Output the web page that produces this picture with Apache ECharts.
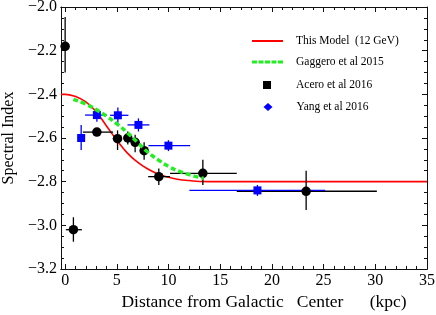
<!DOCTYPE html>
<html><head><meta charset="utf-8">
<script src="https://cdn.jsdelivr.net/npm/echarts@6/dist/echarts.min.js"></script>
<style>html,body{margin:0;padding:0;background:#fff}#c{width:436px;height:315px}</style>
</head><body><div id="c"></div>
<script>
// Model curve (This Model, 12 GeV): [distance, index]
const modelCurve = [[-0.4,-2.40],[0,-2.40],[1,-2.41],[2,-2.435],[3,-2.48],[4,-2.545],[5,-2.61],[6,-2.668],[7,-2.71],[8,-2.742],[9,-2.765],[10,-2.78],[11,-2.79],[12,-2.795],[13,-2.799],[15,-2.80],[20,-2.80],[35,-2.80]];
// Gaggero et al 2015
const gaggeroCurve = [[0.8,-2.423],[2,-2.445],[3,-2.47],[4,-2.50],[5,-2.535],[6,-2.575],[7,-2.62],[8,-2.665],[9,-2.70],[10,-2.73],[11,-2.752],[12,-2.768],[13.4,-2.785]];
// Acero et al 2016: [x, y, xLow, xHigh, yLow, yHigh]
const aceroPoints = [
  [0.0,-2.18,0.0,0.0,-2.30,-2.046],
  [0.8,-3.02,0.07,1.62,-3.075,-2.963],
  [3.07,-2.573,1.71,4.64,-2.59,-2.555],
  [5.07,-2.603,4.6,5.5,-2.655,-2.565],
  [6.06,-2.60,5.7,6.45,-2.63,-2.57],
  [6.77,-2.62,6.4,7.2,-2.665,-2.585],
  [7.64,-2.658,7.25,8.1,-2.70,-2.62],
  [9.06,-2.777,8.03,10.15,-2.815,-2.74],
  [13.32,-2.762,10.15,16.6,-2.815,-2.70],
  [23.31,-2.844,16.6,30.15,-2.93,-2.75]
];
// Yang et al 2016
const yangPoints = [
  [1.55,-2.60,1.2,1.9,-2.655,-2.54],
  [3.07,-2.495,1.93,4.03,-2.525,-2.478],
  [5.10,-2.496,4.35,6.12,-2.53,-2.46],
  [7.09,-2.54,6.03,8.15,-2.57,-2.51],
  [9.99,-2.635,8.06,12.09,-2.66,-2.61],
  [18.6,-2.84,12.02,25.15,-2.865,-2.815]
];
const xMajorTicks = [0,5,10,15,20,25,30,35];
const xMinorTicks = [0,1,2,3,4,5,6,7,8,9,10,11,12,13,14,15,16,17,18,19,20,21,22,23,24,25,26,27,28,29,30,31,32,33,34,35];
const xRange = {min:-0.4, max:35};
const yTicks = {min:-3.2, max:-2.0, interval:0.2};
const legendNames = ['This Model  (12 GeV)','Gaggero et al 2015','Acero et al 2016','Yang et al 2016'];
const xTitle = 'Distance from Galactic   Center      (kpc)';
const yTitle = 'Spectral Index';

const FONT = 'Liberation Serif';
const frame = '#111';
function errRender(color){
  return function(params, api){
    const x = api.value(0), y = api.value(1);
    const a = api.coord([api.value(2), y]), b = api.coord([api.value(3), y]);
    const c = api.coord([x, api.value(4)]), d = api.coord([x, api.value(5)]);
    const st = {stroke: color, lineWidth: 1.3};
    return {type:'group', children:[
      {type:'line', shape:{x1:a[0],y1:a[1],x2:b[0],y2:b[1]}, style:st},
      {type:'line', shape:{x1:c[0],y1:c[1],x2:d[0],y2:d[1]}, style:st}
    ]};
  };
}
function xAx(pos, lbl, ticks, len){
  return {type:'value', position:pos, min:xRange.min, max:xRange.max,
    axisLine:{show:true, onZero:false, lineStyle:{color:frame, width:1}},
    splitLine:{show:false},
    axisTick:{show:true, inside:true, length:len, customValues:ticks, lineStyle:{color:frame}},
    axisLabel:{show:lbl, customValues:ticks, fontFamily:FONT, fontSize:16, color:'#000', margin:4},
    name: lbl ? xTitle : '', nameLocation:'middle', nameGap:24,
    nameTextStyle:{fontFamily:FONT, fontSize:17.5, color:'#000', padding:[0,0,0,40]}};
}
function yAx(pos, lbl){
  return {type:'value', position:pos, min:yTicks.min, max:yTicks.max, interval:yTicks.interval,
    axisLine:{show:true, onZero:false, lineStyle:{color:frame, width:1}},
    splitLine:{show:false},
    axisTick:{show:true, inside:true, length:5, lineStyle:{color:frame}},
    minorTick:{show:true, splitNumber:4, length:3, lineStyle:{color:frame}},
    axisLabel:{show:lbl, fontFamily:FONT, fontSize:16, color:'#000', margin:4, formatter:v=>v.toFixed(1).replace('-','\u2212')},
    name: lbl ? yTitle : '', nameLocation:'middle', nameGap:44,
    nameTextStyle:{fontFamily:FONT, fontSize:16, color:'#000'}};
}

const legendText = pad => ({fontFamily:FONT, fontSize:11.5, color:'#000', lineHeight:14, padding:[0,0,0,pad]});
const chart = echarts.init(document.getElementById('c'), null, {renderer:'canvas'});
chart.setOption({
  animation:false,
  grid:{left:61, top:7, right:9, bottom:46, containLabel:false, outerBoundsMode:'none'},
  xAxis:[xAx('bottom', true, xMajorTicks, 5), xAx('top', false, xMajorTicks, 5),
         xAx('bottom', false, xMinorTicks, 3), xAx('top', false, xMinorTicks, 3)],
  yAxis:[yAx('left', true), yAx('right', false)],
  legend:[
    {left:252, top:34, padding:0, itemWidth:31, itemHeight:2, selectedMode:false, textStyle:legendText(8),
     data:[{name:legendNames[0], icon:'path://M0,0h31v2h-31z'}]},
    {left:252, top:55, padding:0, itemWidth:31, itemHeight:3, selectedMode:false, textStyle:legendText(8),
     data:[{name:legendNames[1], icon:'path://M0,0h5v3h-5z M6.5,0h5v3h-5z M13,0h5v3h-5z M19.5,0h5v3h-5z M26,0h5v3h-5z'}]},
    {left:263, top:78, padding:0, itemWidth:8, itemHeight:8, selectedMode:false, textStyle:legendText(20),
     data:[{name:legendNames[2], icon:'rect'}]},
    {left:263.5, top:100, padding:0, itemWidth:9, itemHeight:8, selectedMode:false, textStyle:legendText(19),
     data:[{name:legendNames[3], icon:'diamond'}]}
  ],
  series:[
    {type:'line', name:legendNames[0], data:modelCurve, smooth:true, showSymbol:false, symbol:'none',
     lineStyle:{color:'#ff0000', width:1.6}, itemStyle:{color:'#ff0000'}, z:2},
    {type:'custom', name:'aceroErr', renderItem:errRender('#000'), data:aceroPoints, encode:{x:0,y:1}, z:3, silent:true},
    {type:'custom', name:'yangErr', renderItem:errRender('#0000ff'), data:yangPoints, encode:{x:0,y:1}, z:3, silent:true},
    {type:'scatter', name:legendNames[2], data:aceroPoints.map(p=>[p[0],p[1]]), symbol:'circle', symbolSize:9.5,
     itemStyle:{color:'#000', opacity:1}, z:4},
    {type:'scatter', name:legendNames[3], data:yangPoints.map(p=>[p[0],p[1]]), symbol:'rect', symbolSize:8,
     itemStyle:{color:'#0000ff', opacity:1}, z:4},
    {type:'line', name:legendNames[1], data:gaggeroCurve, smooth:true, showSymbol:false, symbol:'none',
     lineStyle:{color:'#22ee22', width:3.5, type:[5,3]}, itemStyle:{color:'#22ee22'}, z:5}
  ]
});
</script></body></html>
